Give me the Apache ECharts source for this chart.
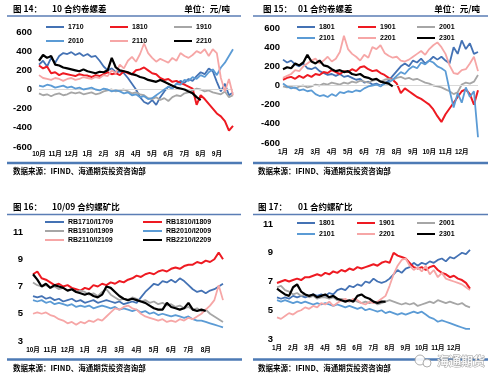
<!DOCTYPE html>
<html><head><meta charset="utf-8">
<script src="https://cdn.jsdelivr.net/npm/echarts@6/dist/echarts.min.js"></script>
<style>html,body{margin:0;padding:0;background:#fff}#c{width:500px;height:384px}</style>
</head><body><div id="c"></div>
<script>
// ---------- tick labels ----------
const months10 = ['10月','11月','12月','1月','2月','3月','4月','5月','6月','7月','8月','9月'];
const months01 = ['1月','2月','3月','4月','5月','6月','7月','8月','9月','10月','11月','12月'];
const months1009 = ['10月','11月','12月','1月','2月','3月','4月','5月','6月','7月','8月'];
const spreadTicks = {min: -600, max: 600, step: 200};
const ratioTicks = {min: 3, max: 11, step: 2};

// ---------- panel 1: 10 合约卷螺差 ----------
const p1Names = ['1710','1810','1910','2010','2110','2210'];
const p1_1710 = [260,300,240,330,280,350,380,370,390,360,380,350,370,340,350,300,240,200,220,180,190,170,120,60,0,-80,-130,-150,-110,-160,-80,-20,30,10,60,90,70,110,90,140,180,160,220,190,80,-20,60,-60,-30];
const p1_1810 = [250,220,240,170,180,150,170,160,150,140,160,150,145,130,150,140,160,180,160,170,150,190,170,160,200,210,230,200,170,160,120,100,110,80,90,70,50,30,10,-160,-60,-100,-150,-200,-250,-280,-330,-430,-380];
const p1_1910 = [-40,-60,-50,-70,-50,-40,-60,-50,-30,-40,-30,-50,-40,-30,-50,-40,-20,-10,0,-20,-10,0,-20,-40,-30,-50,-60,-90,-100,-80,-110,-90,-120,-80,-60,-70,-40,-30,-10,10,0,-20,-10,-30,-40,-50,-20,-80,-60];
const p1_2010 = [40,30,50,40,20,30,40,20,30,10,20,0,10,20,0,-10,10,0,-20,-10,-20,-40,-30,-60,-50,-80,-70,-100,-90,-60,-30,0,30,10,60,50,100,90,130,110,150,130,180,210,150,230,280,350,420];
const p1_2110 = [150,120,110,100,120,110,90,110,120,100,110,130,120,110,130,120,150,140,200,170,260,220,300,340,290,370,480,380,330,290,320,300,280,330,300,380,350,330,360,400,380,420,350,420,380,120,-20,110,-60];
const p1_2210 = [300,360,330,350,260,250,230,220,210,200,190,210,190,180,170,185,180,200,330,230,200,190,180,160,150,130,120,100,90,80,100,80,60,40,20,10,0,-20,-40,-80,-110];

// ---------- panel 2: 01 合约卷螺差 ----------
const p2Names = ['1801','1901','2001','2101','2201','2301'];
const p2_1801 = [270,240,260,220,200,230,180,170,190,150,130,110,120,100,120,90,100,80,60,70,30,40,10,20,0,20,50,100,150,200,230,200,260,240,280,230,260,300,270,300,260,230,400,330,470,380,440,330,350];
const p2_1901 = [60,80,90,70,100,80,110,90,120,110,140,130,160,140,120,150,140,170,150,190,200,170,150,160,130,110,80,60,20,-80,-30,-60,-90,-120,-140,-170,-200,-250,-320,-380,-300,-240,-180,-120,-60,-40,-90,-200,-50];
const p2_2001 = [-10,-20,-10,-30,-10,0,-20,-10,10,0,20,10,30,20,10,30,20,40,30,50,40,30,50,60,40,60,70,60,80,90,70,80,60,70,50,30,20,0,-10,-20,-40,-60,-90,-70,10,30,20,40,110];
const p2_2101 = [20,-10,-30,-20,-50,-40,-60,-50,-90,-110,-100,-120,-90,-110,-70,-80,-60,-70,-50,-60,-30,-10,0,10,-10,20,30,60,100,140,120,170,200,180,240,220,260,240,200,180,150,-50,-230,-80,-180,-20,-120,-60,-540];
const p2_2201 = [80,100,120,160,150,200,230,260,280,230,260,300,250,280,350,520,380,330,300,260,320,290,400,380,420,340,310,290,300,260,250,270,300,330,360,320,380,420,450,400,330,210,130,120,160,170,230,300,150];
const p2_2301 = [170,190,180,230,210,240,320,250,230,260,210,200,170,150,160,140,150,120,110,120,90,80,60,70,40,30,20,-10];

// ---------- panel 3: 10/09 合约螺矿比 ----------
const p3Names = ['RB1710/I1709','RB1810/I1809','RB1910/I1909','RB2010/I2009','RB2110/I2109','RB2210/I2209'];
const p3_1710 = [6.3,6.2,6.3,6.1,6.2,6.0,6.1,5.9,6.0,6.1,5.9,6.0,5.8,5.9,6.0,5.8,5.9,6.0,5.9,5.8,5.9,5.7,5.8,5.9,5.8,6.2,6.6,6.9,7.2,7.1,7.4,7.3,7.5,7.3,7.6,7.4,7.1,6.8,6.6,6.7,6.5,6.7,6.8,7.0,7.2];
const p3_1810 = [7.9,8.1,7.6,7.5,7.3,7.1,7.2,7.0,7.1,6.9,6.8,6.7,6.9,6.8,7.1,7.0,7.2,7.1,7.3,7.2,7.4,7.3,7.5,7.6,7.8,7.7,7.9,8.0,7.9,8.1,8.2,8.1,8.3,8.4,8.3,8.5,8.6,8.6,8.8,8.7,8.9,8.8,9.0,9.5,9.0];
const p3_1910 = [7.3,7.1,7.0,7.1,6.9,7.0,6.8,6.9,6.7,6.8,6.6,6.7,6.6,6.4,6.5,6.3,6.6,6.8,6.4,6.2,6.0,6.1,6.0,6.2,6.1,5.9,6.0,5.8,5.9,5.7,5.8,5.6,5.7,5.5,5.6,5.4,5.5,5.3,5.4,5.2,5.3,5.0,4.8,4.6,4.4];
const p3_2010 = [6.0,5.9,6.0,5.8,5.9,5.7,5.8,5.7,5.6,5.7,5.5,5.6,5.5,5.6,5.4,5.5,5.6,5.5,5.4,5.5,5.3,5.4,5.3,5.2,5.3,5.1,5.2,5.0,5.1,4.9,5.0,4.9,4.8,4.9,4.8,4.7,4.8,4.6,4.5,4.5,4.4,4.3,4.2,4.1,4.0];
const p3_2110 = [5.0,5.1,5.0,5.1,4.9,4.8,4.6,4.5,4.3,4.4,4.2,4.4,4.3,4.5,4.4,4.6,4.5,4.8,5.1,5.4,5.3,5.5,5.6,5.4,5.3,5.0,4.8,4.7,4.6,4.5,4.6,4.4,4.5,4.4,4.6,4.5,4.7,4.6,4.8,5.0,5.3,5.6,6.0,7.1,6.0];
const p3_2210 = [7.9,7.5,7.0,7.2,6.9,7.1,7.0,6.9,6.7,6.8,6.6,6.5,6.4,6.5,6.3,6.2,6.4,7.0,6.9,6.6,6.3,6.1,6.0,6.1,6.0,5.9,5.8,5.6,5.4,5.3,5.3,5.8,5.5,5.4,5.3,5.4,5.8,5.3,5.2,5.3,5.2];

// ---------- panel 4: 01 合约螺矿比 ----------
const p4Names = ['1801','1901','2001','2101','2201','2301'];
const p4_1801 = [5.9,5.8,5.9,5.8,6.0,5.9,6.0,5.9,6.0,6.1,6.0,6.1,6.0,6.2,6.1,6.4,6.5,6.4,6.7,6.6,6.8,6.7,7.0,6.9,7.2,7.0,6.9,7.0,7.2,7.5,7.8,7.6,7.9,8.0,8.3,8.1,8.3,8.2,8.4,8.3,8.5,8.6,8.4,8.7,8.6,8.8,9.0,8.9,9.2];
const p4_1901 = [6.9,7.0,7.1,7.0,7.1,7.2,7.1,7.3,7.3,7.4,7.5,7.4,7.6,7.5,7.7,7.6,7.8,7.7,7.9,7.8,8.0,7.9,8.0,8.1,8.2,8.1,8.3,8.4,8.3,9.0,8.8,8.7,8.6,8.3,8.0,7.9,8.0,7.8,8.0,8.1,7.8,7.6,7.5,7.3,7.4,7.2,7.1,6.9,6.5];
const p4_2001 = [6.6,6.7,6.4,6.3,6.1,6.2,6.0,6.1,5.9,6.0,5.8,5.9,5.9,5.8,5.9,5.7,5.8,5.7,5.6,5.7,5.6,5.5,5.6,5.5,5.6,5.4,5.5,5.6,5.7,5.6,5.5,5.4,5.5,5.4,5.5,5.3,5.4,5.5,5.6,5.5,5.7,5.6,5.5,5.6,5.5,5.4,5.5,5.3,5.2];
const p4_2101 = [5.7,5.6,5.7,5.6,5.5,5.6,5.5,5.6,5.5,5.4,5.5,5.4,5.5,5.4,5.3,5.4,5.3,5.2,5.3,5.2,5.1,5.2,5.0,5.1,5.0,4.9,5.0,4.8,4.9,4.8,4.7,4.8,4.7,4.8,4.9,4.8,4.9,4.7,4.5,4.4,4.2,4.3,4.2,4.1,4.0,3.9,3.8,3.7,3.7];
const p4_2201 = [4.5,4.4,4.6,4.8,4.7,4.9,5.0,5.2,5.1,5.3,5.2,5.5,5.4,5.6,5.3,5.5,5.7,5.8,5.6,5.8,5.7,5.5,5.4,5.6,5.5,5.6,5.8,6.0,6.7,7.5,8.1,8.5,8.6,8.1,7.8,8.0,7.7,8.1,7.5,7.8,7.3,7.6,7.2,7.1,7.0,6.9,6.8,6.6,6.4];
const p4_2301 = [6.5,6.3,6.1,6.0,6.6,6.8,6.3,6.1,6.0,6.1,5.9,6.0,6.1,5.9,6.0,5.8,5.7,5.6,5.7,5.6,6.0,6.1,5.9,5.8,5.6,5.5,5.6,5.6];

// ---------- styles ----------
const COLORS = ['#4472b4','#ee1a22','#a6a6a6','#5b9bd5','#f6a6a6','#000000'];
const WIDTHS = [1.8,2,1.8,1.8,1.8,2.2];
const LATIN = "'Liberation Sans','Noto Sans CJK SC',sans-serif";
const CJK = "'Noto Sans CJK SC',sans-serif";

const panels = [
  {names:p1Names, data:[p1_1710,p1_1810,p1_1910,p1_2010,p1_2110,p1_2210], months:months10, n:49, ticks:spreadTicks,
   grid:{left:39, top:32, width:194, height:115}, yMargin:7, xMargin:4, zero:true,
   legend:{lefts:[46,110,174], rows:[28,42], w:18}},
  {names:p2Names, data:[p2_1801,p2_1901,p2_2001,p2_2101,p2_2201,p2_2301], months:months01, n:49, ticks:spreadTicks,
   grid:{left:283, top:28, width:195, height:115}, yMargin:3, xMargin:6, zero:true,
   legend:{lefts:[297,358,417], rows:[28,39], w:18}},
  {names:p3Names, data:[p3_1710,p3_1810,p3_1910,p3_2010,p3_2110,p3_2210], months:months1009, n:45, ticks:ratioTicks,
   grid:{left:33, top:232, width:190, height:109}, yMargin:10, xMargin:6, zero:false,
   legend:{lefts:[45,143], rows:[223,232,241], w:19}},
  {names:p4Names, data:[p4_1801,p4_1901,p4_2001,p4_2101,p4_2201,p4_2301], months:months01, n:49, ticks:ratioTicks,
   grid:{left:277, top:224, width:193, height:115}, yMargin:4, xMargin:6, zero:false,
   legend:{lefts:[297,357,417], rows:[224,235], w:18}}
];

const grids = [], xAxes = [], yAxes = [], series = [], legends = [];
panels.forEach((p, k) => {
  grids.push(Object.assign({containLabel:false}, p.grid));
  const cats = Array.from({length:p.n}, (_, i) => 'c' + i);
  xAxes.push({type:'category', gridIndex:k, data:cats, boundaryGap:false,
    axisLine:{show:false}, axisTick:{show:false}, splitLine:{show:false},
    axisLabel:{interval:(i) => i % 4 === 0, margin:p.xMargin, fontSize:6.5, fontWeight:'bold', color:'#000', fontFamily:LATIN,
      formatter:(v, i) => (i % 4 === 0 && p.months[i/4]) ? p.months[i/4] : ''}});
  yAxes.push({type:'value', gridIndex:k, min:p.ticks.min, max:p.ticks.max, interval:p.ticks.step,
    axisLine:{show:false}, axisTick:{show:false}, splitLine:{show:false},
    axisLabel:{margin:p.yMargin, fontSize:9.5, fontWeight:'bold', color:'#000', fontFamily:LATIN}});
  p.names.forEach((nm, j) => {
    const s = {type:'line', name:nm, xAxisIndex:k, yAxisIndex:k, data:p.data[j], color:COLORS[j],
      symbol:'none', showSymbol:false, smooth:false, z:2+j,
      lineStyle:{color:COLORS[j], width:WIDTHS[j]}, emphasis:{disabled:true}};
    if (j === 0 && p.zero) {
      s.markLine = {silent:true, symbol:'none', label:{show:false}, animation:false,
        lineStyle:{color:'#d9d9d9', width:1, type:'solid'}, data:[{yAxis:0}]};
    }
    series.push(s);
    const cols = p.legend.lefts.length;
    legends.push({data:[nm], left:p.legend.lefts[j % cols], top:p.legend.rows[Math.floor(j / cols)] - 4.5,
      padding:0, itemGap:0, itemWidth:p.legend.w, itemHeight:2, icon:'rect', selectedMode:false,
      textStyle:{fontSize:7, fontWeight:'bold', color:'#000', fontFamily:LATIN, padding:[0,0,0,-1]}});
  });
});

// ---------- decorations (titles, rules, sources) ----------
const titleFont = 'bold 8.5px ' + CJK;
const srcFont = 'bold 7.5px ' + CJK;
function txt(text, x, y, font, align, fill) {
  return {type:'text', silent:true, style:{text, x, y, font, fill:fill || '#000', align:align || 'left', verticalAlign:'middle'}};
}
function rule(x1, x2, y, w, color) {
  return {type:'line', silent:true, shape:{x1, y1:y, x2, y2:y}, style:{stroke:color, lineWidth:w}};
}
const src = '数据来源：IFIND、海通期货投资咨询部';
const graphics = [
  txt('图 14：', 13, 8.5, titleFont), txt('10 合约卷螺差', 52, 8.5, titleFont), txt('单位：元/吨', 230, 8.5, titleFont, 'right'),
  rule(7, 241, 16, 1.5, '#5a7db5'), rule(7, 242, 163, 2.5, '#4d7ab5'), txt(src, 13, 171, srcFont),
  txt('图 15：', 263, 8.5, titleFont), txt('01 合约卷螺差', 298, 8.5, titleFont), txt('单位：元/吨', 480, 8.5, titleFont, 'right'),
  rule(253, 488, 16, 1.5, '#5a7db5'), rule(253, 488, 163, 2.5, '#4d7ab5'), txt(src, 258, 171, srcFont),
  txt('图 16：', 13, 206.5, titleFont), txt('10/09 合约螺矿比', 52, 206.5, titleFont),
  rule(7, 241, 214.5, 1.5, '#5a7db5'), rule(7, 242, 359.5, 2.5, '#4d7ab5'), txt(src, 13, 368, srcFont),
  txt('图 17：', 258, 206.5, titleFont), txt('01 合约螺矿比', 298, 206.5, titleFont),
  rule(253, 488, 214.5, 1.5, '#5a7db5'), rule(253, 488, 359.5, 2.5, '#4d7ab5'), txt(src, 258, 368, srcFont),
  // watermark
  {type:'circle', silent:true, shape:{cx:420, cy:360, r:5}, style:{fill:'rgba(255,255,255,0.9)', stroke:'#9a9a9a', lineWidth:0.8}},
  {type:'circle', silent:true, shape:{cx:427, cy:363, r:4}, style:{fill:'rgba(255,255,255,0.9)', stroke:'#9a9a9a', lineWidth:0.8}},
  {type:'text', silent:true, style:{text:'海通期货', x:437, y:361, font:'bold 12px ' + CJK, fill:'rgba(255,255,255,0.85)', stroke:'#9a9a9a', lineWidth:0.8, verticalAlign:'middle'}}
];

const chart = echarts.init(document.getElementById('c'), null, {renderer:'canvas', width:500, height:384});
chart.setOption({
  animation:false, backgroundColor:'#fff',
  grid:grids, xAxis:xAxes, yAxis:yAxes, legend:legends, series:series, graphic:{elements:graphics}
});
</script></body></html>
